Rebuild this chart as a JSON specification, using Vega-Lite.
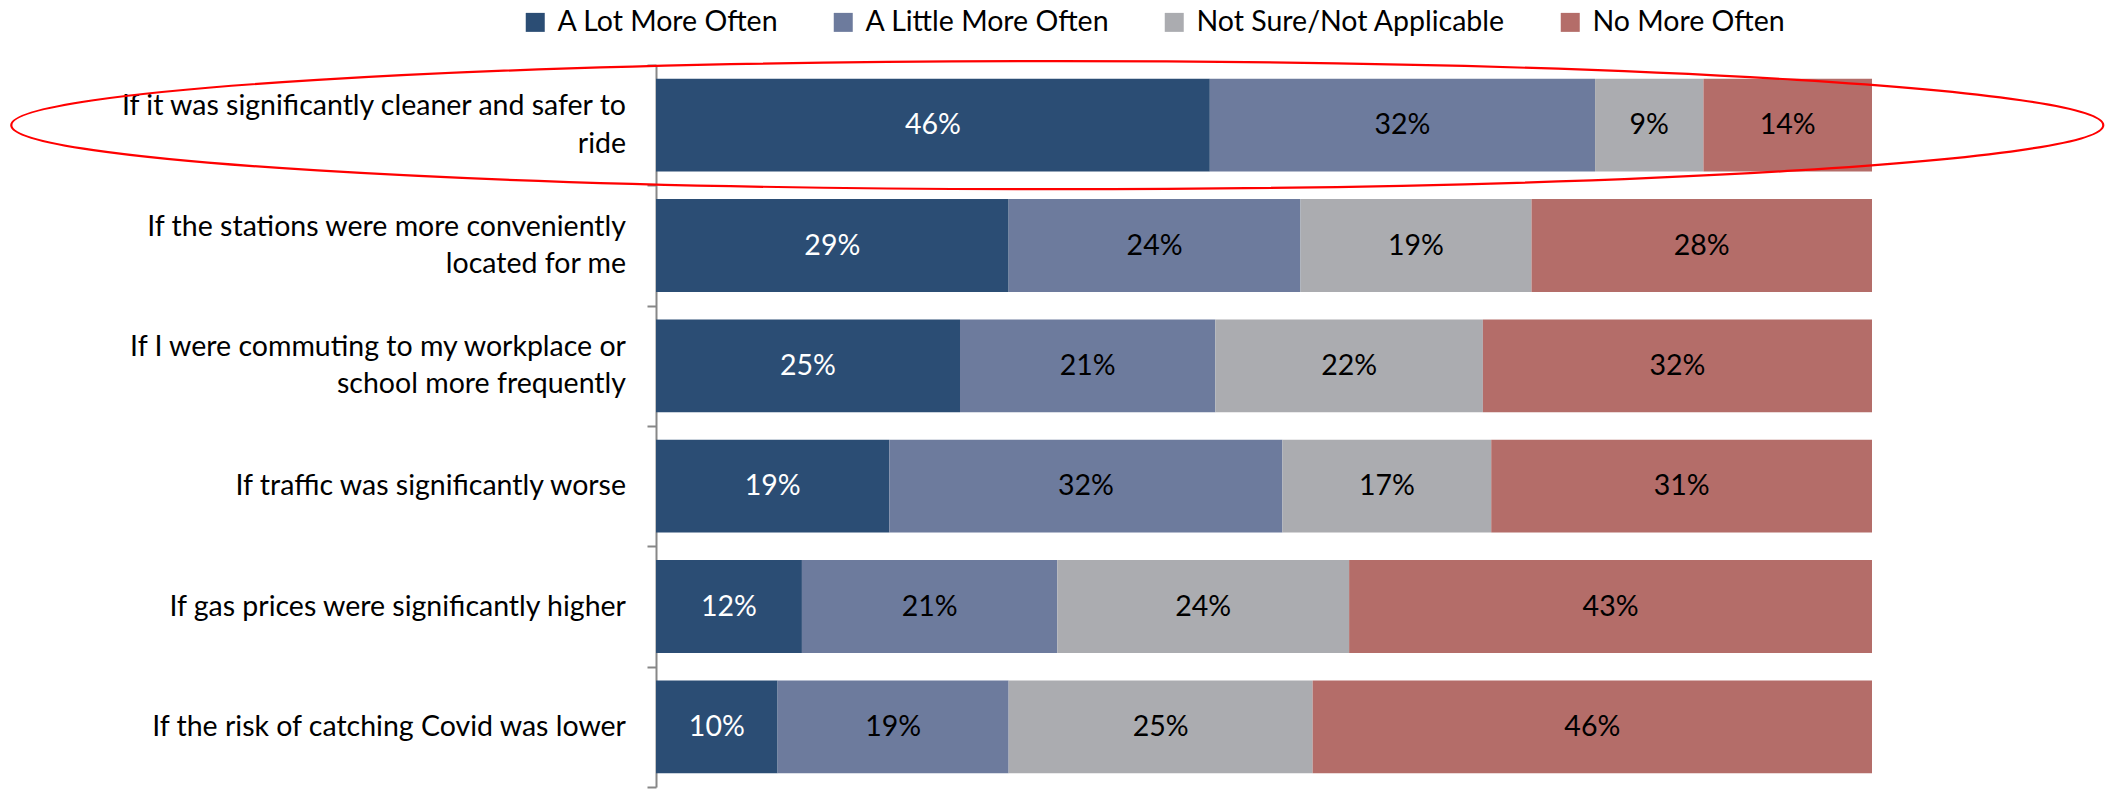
{
  "$schema": "https://vega.github.io/schema/vega-lite/v6.json",
  "width": 1216,
  "height": 722,
  "autosize": {"type": "none"},
  "padding": {"left": 656, "top": 65, "right": 236, "bottom": 2},
  "background": "white",
  "config": {
    "view": {"stroke": null},
    "font": "Lato",
    "legend": {
      "labelFont": "Lato",
      "labelFontSize": 28.5,
      "labelColor": "#000000",
      "labelLimit": 0
    }
  },
  "datasets": {
    "bars": [
      {"q": "If it was significantly cleaner and safer to|ride", "resp": "A Lot More Often", "rank": 1, "value": 0.46},
      {"q": "If it was significantly cleaner and safer to|ride", "resp": "A Little More Often", "rank": 2, "value": 0.32},
      {"q": "If it was significantly cleaner and safer to|ride", "resp": "Not Sure/Not Applicable", "rank": 3, "value": 0.09},
      {"q": "If it was significantly cleaner and safer to|ride", "resp": "No More Often", "rank": 4, "value": 0.14},
      {"q": "If the stations were more conveniently|located for me", "resp": "A Lot More Often", "rank": 1, "value": 0.29},
      {"q": "If the stations were more conveniently|located for me", "resp": "A Little More Often", "rank": 2, "value": 0.24},
      {"q": "If the stations were more conveniently|located for me", "resp": "Not Sure/Not Applicable", "rank": 3, "value": 0.19},
      {"q": "If the stations were more conveniently|located for me", "resp": "No More Often", "rank": 4, "value": 0.28},
      {"q": "If I were commuting to my workplace or|school more frequently", "resp": "A Lot More Often", "rank": 1, "value": 0.25},
      {"q": "If I were commuting to my workplace or|school more frequently", "resp": "A Little More Often", "rank": 2, "value": 0.21},
      {"q": "If I were commuting to my workplace or|school more frequently", "resp": "Not Sure/Not Applicable", "rank": 3, "value": 0.22},
      {"q": "If I were commuting to my workplace or|school more frequently", "resp": "No More Often", "rank": 4, "value": 0.32},
      {"q": "If traffic was significantly worse", "resp": "A Lot More Often", "rank": 1, "value": 0.19},
      {"q": "If traffic was significantly worse", "resp": "A Little More Often", "rank": 2, "value": 0.32},
      {"q": "If traffic was significantly worse", "resp": "Not Sure/Not Applicable", "rank": 3, "value": 0.17},
      {"q": "If traffic was significantly worse", "resp": "No More Often", "rank": 4, "value": 0.31},
      {"q": "If gas prices were significantly higher", "resp": "A Lot More Often", "rank": 1, "value": 0.12},
      {"q": "If gas prices were significantly higher", "resp": "A Little More Often", "rank": 2, "value": 0.21},
      {"q": "If gas prices were significantly higher", "resp": "Not Sure/Not Applicable", "rank": 3, "value": 0.24},
      {"q": "If gas prices were significantly higher", "resp": "No More Often", "rank": 4, "value": 0.43},
      {"q": "If the risk of catching Covid was lower", "resp": "A Lot More Often", "rank": 1, "value": 0.10},
      {"q": "If the risk of catching Covid was lower", "resp": "A Little More Often", "rank": 2, "value": 0.19},
      {"q": "If the risk of catching Covid was lower", "resp": "Not Sure/Not Applicable", "rank": 3, "value": 0.25},
      {"q": "If the risk of catching Covid was lower", "resp": "No More Often", "rank": 4, "value": 0.46}
    ],
    "highlight": [
      {"q": "If it was significantly cleaner and safer to|ride", "cx": 0.33}
    ]
  },
  "encoding": {
    "y": {
      "field": "q",
      "type": "nominal",
      "sort": null,
      "title": null,
      "scale": {"paddingInner": 0, "paddingOuter": 0},
      "axis": {
        "labels": false,
        "tickBand": "extent",
        "tickSize": 9,
        "tickWidth": 2,
        "tickColor": "#878787",
        "domainColor": "#878787",
        "domainWidth": 2,
        "grid": false
      }
    }
  },
  "layer": [
    {
      "data": {"name": "bars"},
      "mark": {"type": "bar", "height": {"band": 0.772}},
      "encoding": {
        "x": {"field": "value", "type": "quantitative", "stack": "normalize", "axis": null},
        "order": {"field": "rank", "type": "quantitative"},
        "color": {
          "field": "resp",
          "type": "nominal",
          "scale": {
            "domain": ["A Lot More Often", "A Little More Often", "Not Sure/Not Applicable", "No More Often"],
            "range": ["#2B4D74", "#6D7B9D", "#ABACB0", "#B46D69"]
          },
          "legend": {
            "orient": "none",
            "legendX": -135,
            "legendY": -57,
            "direction": "horizontal",
            "title": null,
            "symbolType": "square",
            "symbolSize": 361,
            "symbolStrokeWidth": 0,
            "symbolOpacity": 1,
            "labelOffset": 8,
            "columnPadding": 50,
            "padding": 0
          }
        }
      }
    },
    {
      "data": {"name": "bars"},
      "mark": {"type": "text", "fontSize": 28.5, "font": "Lato", "align": "center", "baseline": "middle"},
      "encoding": {
        "x": {"field": "value", "type": "quantitative", "stack": "normalize", "bandPosition": 0.5},
        "order": {"field": "rank", "type": "quantitative"},
        "detail": {"field": "resp", "type": "nominal"},
        "fill": {
          "condition": {"test": "datum.resp === 'A Lot More Often'", "value": "#FFFFFF"},
          "value": "#000000"
        },
        "text": {"field": "value", "type": "quantitative", "format": ".0%"}
      }
    },
    {
      "data": {"name": "bars"},
      "transform": [{"filter": "datum.rank === 1 && indexof(datum.q, '|') < 0"}],
      "mark": {"type": "text", "fontSize": 28.5, "font": "Lato", "align": "right", "baseline": "middle", "dx": -30, "color": "#000000"},
      "encoding": {
        "x": {"datum": 0, "type": "quantitative"},
        "text": {"field": "q", "type": "nominal"}
      }
    },
    {
      "data": {"name": "bars"},
      "transform": [{"filter": "datum.rank === 1 && indexof(datum.q, '|') >= 0"}],
      "mark": {"type": "text", "fontSize": 28.5, "font": "Lato", "align": "right", "baseline": "line-bottom", "lineBreak": "|", "lineHeight": 37.5, "dx": -30, "color": "#000000"},
      "encoding": {
        "x": {"datum": 0, "type": "quantitative"},
        "text": {"field": "q", "type": "nominal"}
      }
    },
    {
      "data": {"name": "highlight"},
      "mark": {
        "type": "point",
        "shape": "M-1,0A1,0.0612,0,1,0,1,0A1,0.0612,0,1,0,-1,0Z",
        "size": 4376464,
        "filled": false,
        "stroke": "#FF0000",
        "strokeWidth": 2.2,
        "opacity": 1
      },
      "encoding": {
        "x": {"field": "cx", "type": "quantitative"}
      }
    }
  ]
}
